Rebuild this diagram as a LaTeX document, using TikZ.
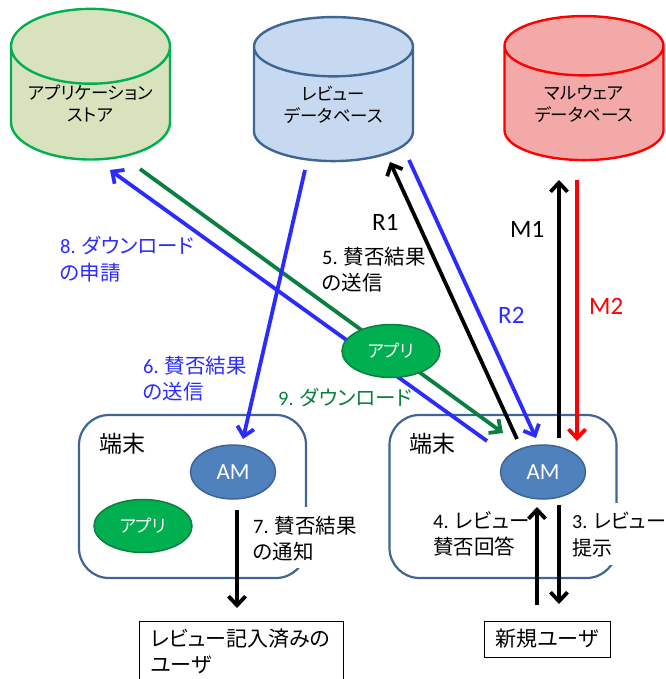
\documentclass[tikz,border=0pt]{standalone}
\usepackage{fontspec}
\setmainfont{Carlito}
\newfontfamily\jp[RawFeature=+palt]{Noto Sans CJK JP}
\usetikzlibrary{arrows.meta,shapes.geometric}
\definecolor{frameblue}{HTML}{3F6594}
\definecolor{amblue}{HTML}{4F81BD}
\definecolor{labelblue}{HTML}{2B2BFF}
\definecolor{appgreen}{HTML}{00B050}
\definecolor{dlgreen}{HTML}{0A7F3F}
\definecolor{storefill}{HTML}{D8E3BD}
\definecolor{reviewfill}{HTML}{C6D9F0}
\definecolor{malwarefill}{HTML}{F4A9A9}
\begin{document}
\begin{tikzpicture}[x=1pt,y=-1pt,
  db/.style={cylinder,shape border rotate=90,aspect=0.6,line width=2.4pt,minimum width=159pt,minimum height=144pt,inner sep=0pt,text=black,align=center,font=\fontsize{17.5}{22}\selectfont\jp},
  device/.style={draw=frameblue,line width=2.2pt,rounded corners=30pt,minimum width=227pt,minimum height=163pt,inner sep=0pt},
  am/.style={ellipse,draw=frameblue,fill=amblue,line width=1.5pt,minimum width=85pt,minimum height=54pt,inner sep=0pt,text=white,font=\fontsize{23}{26}\selectfont},
  app/.style={ellipse,draw=dlgreen,fill=appgreen,line width=1.5pt,minimum width=98pt,minimum height=53pt,inner sep=0pt,text=white,font=\fontsize{17.5}{20}\selectfont\jp},
  user/.style={draw=black,line width=0.8pt,inner sep=0pt,align=left,font=\fontsize{21}{25.5}\selectfont\jp},
  lbl/.style={anchor=north west,inner sep=0pt,align=left,font=\fontsize{20.5}{26.5}\selectfont},
  big/.style={lbl,font=\fontsize{25}{26}\selectfont},
  arw/.style={line width=3.8pt,-{Straight Barb[length=9pt,width=17pt,line width=3.8pt]}}]
\useasboundingbox (0,0) rectangle (665,679);
% databases
\node [db,draw=appgreen,fill=storefill] (store) at (90.5,103.5) {アプリケーション\\ストア};
\node [db,draw=frameblue,fill=reviewfill] (reviewdb) at (333.5,104.5) {レビュー\\データベース};
\node [db,draw=red,fill=malwarefill] (malwaredb) at (584,103.5) {マルウェア\\データベース};
% terminals
\node [device] (devl) at (192.5,496.5) {};
\node [device] (devr) at (503,496.5) {};
\node [am] (aml) at (233,472) {AM};
\node [am] (amr) at (543,472) {AM};
\node [app] (appl) at (143,526) {アプリ};
% users
\node [user,minimum width=204pt,minimum height=60pt,text width=182pt,anchor=north west] (userl) at (139,621) {レビュー記入済みの\\ユーザ};
\node [user,minimum width=126pt,minimum height=36pt] (userr) at (547,639) {新規ユーザ};
% free ends
\coordinate (r1a) at (517,439);
\coordinate (r1b) at (390,162);
\coordinate (r2a) at (409,160);
\coordinate (r2b) at (536,438);
\coordinate (m1a) at (559,438);
\coordinate (m1b) at (559,180);
\coordinate (m2a) at (577,180);
\coordinate (m2b) at (577,441);
\coordinate (d8a) at (487,441);
\coordinate (d8b) at (110,170);
\coordinate (d9a) at (140,169);
\coordinate (d9b) at (503,433);
\coordinate (n6a) at (305,170);
\coordinate (n6b) at (243,439);
\coordinate (n7a) at (237,510);
\coordinate (n7b) at (237,608);
\coordinate (n4a) at (537,605);
\coordinate (n4b) at (537,507);
\coordinate (n3a) at (559,505);
\coordinate (n3b) at (559,604);
% labels with white ground
\node [fill=white,minimum width=60pt,minimum height=61pt,anchor=north west,inner sep=0pt] (cover7) at (252,507) {};
\node [fill=white,minimum width=60pt,minimum height=62pt,anchor=north west,inner sep=0pt] (cover3) at (571,503) {};
% connectors
\draw [arw,black] (r1a) -- (r1b);
\draw [arw,labelblue] (r2a) -- (r2b);
\draw [arw,black] (m1a) -- (m1b);
\draw [arw,red] (m2a) -- (m2b);
\draw [arw,labelblue] (d8a) -- (d8b);
\draw [arw,dlgreen] (d9a) -- (d9b);
\draw [arw,labelblue] (n6a) -- (n6b);
\draw [arw,black] (n7a) -- (n7b);
\draw [arw,black] (n4a) -- (n4b);
\draw [arw,black] (n3a) -- (n3b);
\node [app] (appc) at (391,351) {アプリ};
% texts
\node [lbl,font=\fontsize{23}{26}\selectfont\jp] (terml) at (99,433) {端末};
\node [lbl,font=\fontsize{23}{26}\selectfont\jp] (termr) at (409,433) {端末};
\node [lbl,text=labelblue] (l8) at (60,236) {8. {\jp ダウンロード}\\{\jp の申請}};
\node [lbl] (l5) at (322,247) {5. {\jp 賛否結果}\\{\jp の送信}};
\node [lbl,text=labelblue] (l6) at (143,356) {6. {\jp 賛否結果}\\{\jp の送信}};
\node [lbl,text=dlgreen] (l9) at (278,388) {9. {\jp ダウンロード}};
\node [lbl] (l7) at (253,516) {7. {\jp 賛否結果}\\{\jp の通知}};
\node [lbl] (l4) at (433,511) {4. {\jp レビュー}\\{\jp 賛否回答}};
\node [lbl,font=\fontsize{20}{26.5}\selectfont] (l3) at (572,512) {3. {\jp レビュー}\\{\jp 提示}};
\node [big] (lr1) at (372,214) {R1};
\node [big] (lm1) at (510,221) {M1};
\node [big,text=labelblue] (lr2) at (498,307) {R2};
\node [big,text=red] (lm2) at (589,298) {M2};
\end{tikzpicture}
\end{document}
